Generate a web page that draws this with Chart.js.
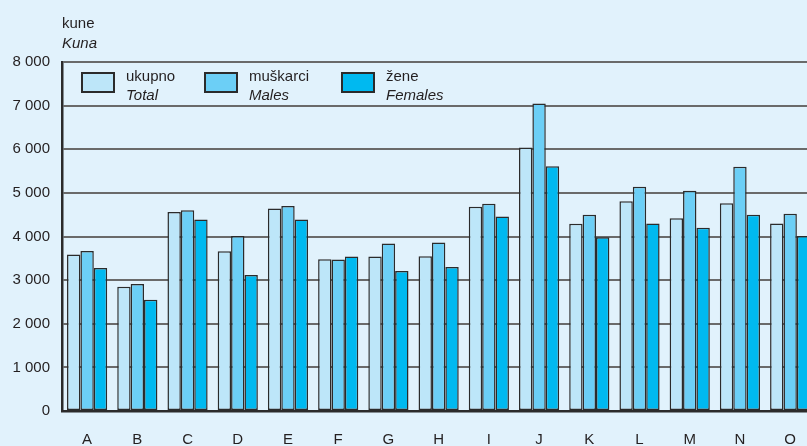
<!DOCTYPE html>
<html>
<head>
<meta charset="utf-8">
<script src="https://cdn.jsdelivr.net/npm/chart.js@4"></script>
<style>
  html, body { margin: 0; padding: 0; background: #e1f2fc; overflow: hidden; }
  #wrap { width: 816px; height: 446px; }
</style>
</head>
<body>
<div id="wrap"><canvas id="chart" width="816" height="446"></canvas></div>
<script>
// Podaci: prosjecna placa po djelatnostima (kune)
const categories = ["A", "B", "C", "D", "E", "F", "G", "H", "I", "J", "K", "L", "M", "N", "O"];
const total   = [3590, 2850, 4560, 3660, 4640, 3480, 3540, 3550, 4680, 6040, 4290, 4810, 4420, 4760, 4300];
const males   = [3670, 2910, 4600, 4010, 4700, 3470, 3840, 3860, 4750, 7050, 4500, 5140, 5050, 5600, 4520];
const females = [3280, 2550, 4390, 3120, 4390, 3540, 3210, 3300, 4460, 5610, 3980, 4300, 4200, 4500, 4010];

const labelsHr = ["ukupno", "muškarci", "žene"];
const labelsEn = ["Total", "Males", "Females"];
const colors = ["#bde6f9", "#6ccff6", "#00b9f0"];

const FONT = "'Liberation Sans', Arial, sans-serif";
const TEXT = "#231f20";

function thousands(v) {
    return String(v).replace(/\B(?=(\d{3})+(?!\d))/g, " ");
}

// Legenda i naslov osi crtaju se rucno (dva retka, drugi u kurzivu)
const customText = {
    id: "customText",
    afterDatasetsDraw(chart) {
        const ctx = chart.ctx;
        const area = chart.chartArea;
        ctx.save();
        ctx.fillStyle = TEXT;
        ctx.textBaseline = "alphabetic";
        ctx.textAlign = "left";
        ctx.font = "15px " + FONT;
        ctx.fillText("kune", area.left, 28);
        ctx.font = "italic 15px " + FONT;
        ctx.fillText("Kuna", area.left, 48);

        const offsets = [20, 143, 280];
        chart.data.datasets.forEach((ds, i) => {
            const x = area.left + offsets[i];
            const y = area.top + 11;
            ctx.fillStyle = ds.backgroundColor;
            ctx.fillRect(x, y, 32, 19);
            ctx.strokeStyle = "#2b2b2b";
            ctx.lineWidth = 2;
            ctx.strokeRect(x, y, 32, 19);
            ctx.fillStyle = TEXT;
            ctx.font = "15px " + FONT;
            ctx.fillText(labelsHr[i], x + 44, y + 8);
            ctx.font = "italic 15px " + FONT;
            ctx.fillText(labelsEn[i], x + 44, y + 27);
        });
        ctx.restore();
    }
};

const ctx = document.getElementById("chart");
new Chart(ctx, {
    type: "bar",
    data: {
        labels: categories,
        datasets: [total, males, females].map((d, i) => ({
            label: labelsEn[i],
            data: d,
            backgroundColor: colors[i],
            borderColor: "#2b2b2b",
            borderWidth: 1.5,
            borderSkipped: false,
            barPercentage: 1,
            categoryPercentage: 0.8,
        })),
    },
    options: {
        responsive: false,
        animation: false,
        layout: { padding: { top: 62, left: 0, right: 0, bottom: 0 } },
        plugins: {
            legend: { display: false },
            tooltip: { enabled: false },
        },
        scales: {
            x: {
                grid: { display: false, drawTicks: false },
                border: { color: "#2b2b2b", width: 2.5 },
                ticks: { color: TEXT, font: { family: FONT, size: 15 }, padding: 20 },
                afterFit(scale) { scale.height = 35; },
            },
            y: {
                min: 0,
                max: 8000,
                ticks: {
                    stepSize: 1000,
                    color: TEXT,
                    font: { family: FONT, size: 15 },
                    padding: 12,
                    callback: (v) => thousands(v),
                },
                grid: { color: "#6a6a6a", lineWidth: 2, drawTicks: false },
                border: { color: "#2b2b2b", width: 2.5 },
                afterFit(scale) { scale.width = 62; },
            },
        },
    },
    plugins: [customText],
});
</script>
</body>
</html>
